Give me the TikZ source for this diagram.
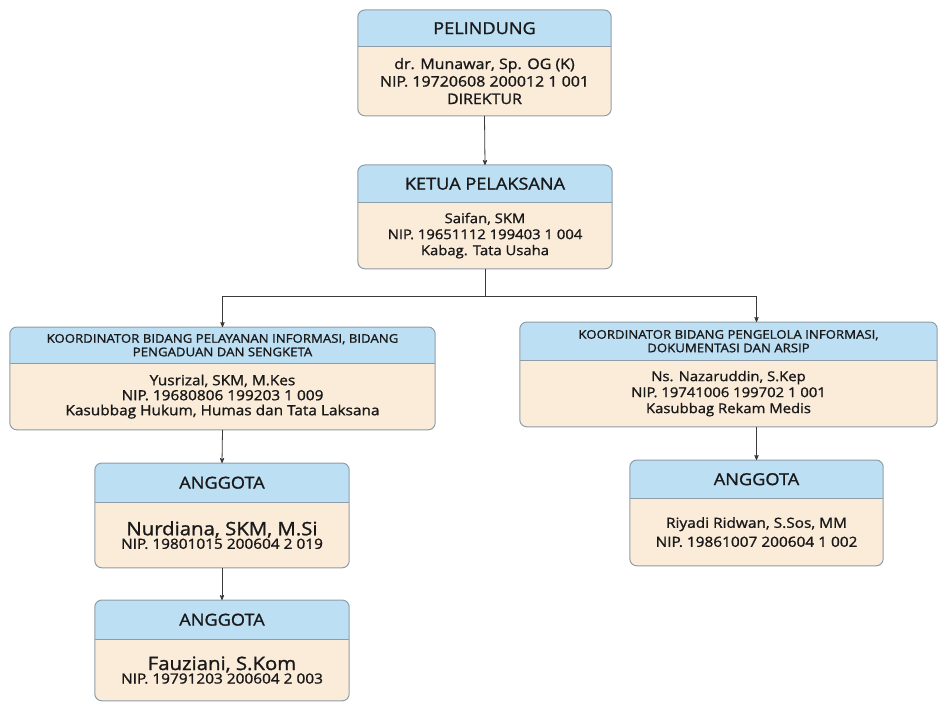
\documentclass[tikz,border=0pt]{standalone}
\usepackage{fontspec}
\setmainfont[FakeStretch=1.1,FakeBold=1.2]{Open Sans}
\usetikzlibrary{arrows,positioning,backgrounds}

\definecolor{hdrblue}{HTML}{BCDFF3}
\definecolor{bdybeige}{HTML}{FBEBD9}
\definecolor{framegray}{HTML}{8E9CA8}
\definecolor{linegray}{HTML}{3A3A3A}

\begin{document}
\begin{tikzpicture}[x=1pt,y=-1pt,>=stealth',
  hdr/.style={inner sep=0pt,align=center,text=black!90,anchor=north},
  bdy/.style={inner sep=0pt,align=center,text=black!90,below=0pt of #1},
  hbig/.style={font=\fontsize{16.5}{18}\selectfont},
  hsmall/.style={font=\fontsize{12}{13.5}\selectfont},
  conn/.style={draw=linegray,line width=0.8pt}]

\useasboundingbox (0,0) rectangle (939,703);

\node[hdr,hbig,minimum width=253,minimum height=36]   (pelh) at (484.5,10)  {PELINDUNG};
\node[bdy=pelh,minimum width=253,minimum height=69,font=\fontsize{14.5}{17.5}\selectfont]   (pelb)
      {dr. Munawar, Sp. OG (K)\\NIP. 19720608 200012 1 001\\DIREKTUR};

\node[hdr,hbig,minimum width=254,minimum height=37]   (keth) at (485,165)   {KETUA PELAKSANA};
\node[bdy=keth,minimum width=254,minimum height=66,font=\fontsize{13.5}{16}\selectfont]   (ketb)
      {Saifan, SKM\\NIP. 19651112 199403 1 004\\Kabag. Tata Usaha};

\node[hdr,hsmall,minimum width=425,minimum height=36]   (klh) at (222.5,327)
      {KOORDINATOR BIDANG PELAYANAN INFORMASI, BIDANG\\PENGADUAN DAN SENGKETA};
\node[bdy=klh,minimum width=425,minimum height=66,font=\fontsize{14}{15}\selectfont]   (klb)
      {Yusrizal, SKM, M.Kes\\NIP. 19680806 199203 1 009\\Kasubbag Hukum, Humas dan Tata Laksana};

\node[hdr,hsmall,minimum width=417,minimum height=38]   (krh) at (728.5,322)
      {KOORDINATOR BIDANG PENGELOLA INFORMASI,\\DOKUMENTASI DAN ARSIP};
\node[bdy=krh,minimum width=417,minimum height=66,font=\fontsize{13.5}{16}\selectfont]   (krb)
      {Ns. Nazaruddin, S.Kep\\NIP. 19741006 199702 1 001\\Kasubbag Rekam Medis};

\node[hdr,hbig,minimum width=254,minimum height=39]   (a1h) at (222,463)   {ANGGOTA};
\node[bdy=a1h,minimum width=254,minimum height=65]   (a1b)
      {\fontsize{18.5}{20}\selectfont Nurdiana, SKM, M.Si\\\fontsize{14}{16.5}\selectfont NIP. 19801015 200604 2 019};

\node[hdr,hbig,minimum width=254,minimum height=39]   (a2h) at (222,600)   {ANGGOTA};
\node[bdy=a2h,minimum width=254,minimum height=61]   (a2b)
      {\fontsize{18.5}{20}\selectfont Fauziani, S.Kom\\\fontsize{14}{16.5}\selectfont NIP. 19791203 200604 2 003};

\node[hdr,hbig,minimum width=253,minimum height=38]   (a3h) at (756.5,460) {ANGGOTA};
\node[bdy=a3h,minimum width=253,minimum height=67,font=\fontsize{14}{19}\selectfont]   (a3b)
      {Riyadi Ridwan, S.Sos, MM\\NIP. 19861007 200604 1 002};

% box fills and frames
\begin{scope}[on background layer]
\foreach \n in {pel,ket,kl,kr,a1,a2,a3}{
  \begin{scope}
    \clip[rounded corners=7pt] (\n h.north west) rectangle (\n b.south east);
    \fill[bdybeige] (\n h.north west) rectangle (\n b.south east);
    \fill[hdrblue] (\n h.north west) rectangle (\n h.south east);
  \end{scope}
  \draw[framegray,line width=1pt,rounded corners=7pt] (\n h.north west) rectangle (\n b.south east);
  \draw[framegray,line width=0.8pt] (\n h.south west) -- (\n h.south east);
}
\end{scope}

% connectors
\coordinate (split) at (485,296);
\draw[conn,->] (pelb.south) -- (keth.north);
\draw[conn]    (ketb.south) -- (split);
\draw[conn,->] (split) -| (klh.north);
\draw[conn,->] (split) -| (krh.north -| a3h.north);
\draw[conn,->] (klb.south) -- (a1h.north);
\draw[conn,->] (a1b.south) -- (a2h.north);
\draw[conn,->] (krb.south -| a3h.north) -- (a3h.north);

\end{tikzpicture}
\end{document}
